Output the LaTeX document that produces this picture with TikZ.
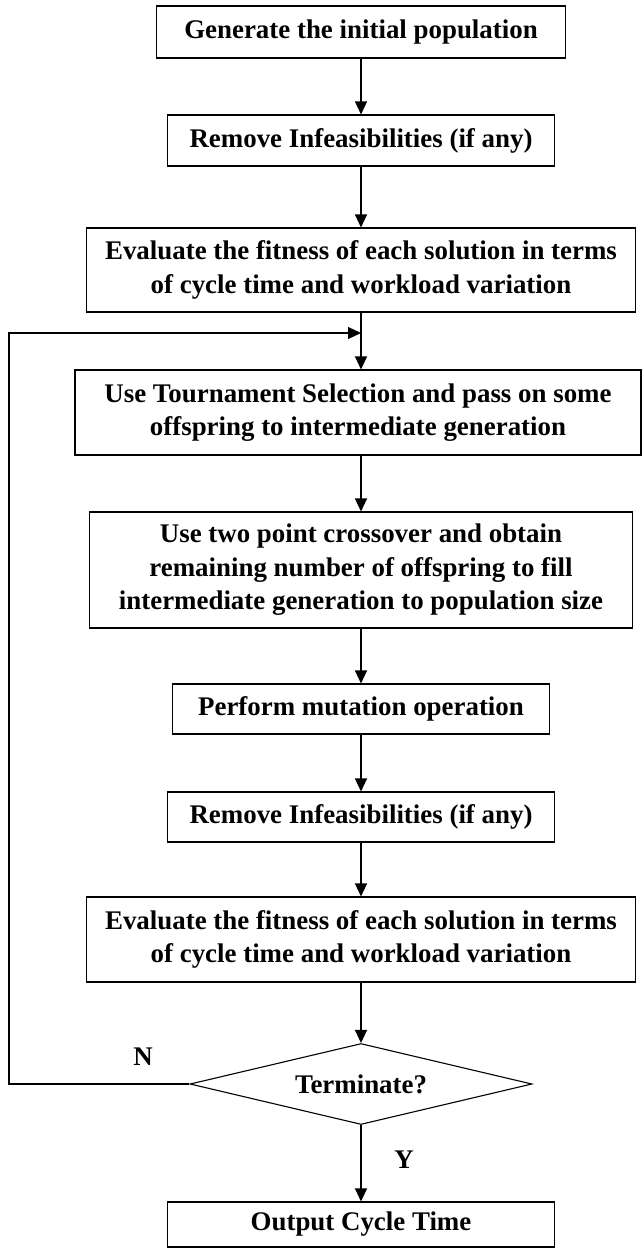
\documentclass[tikz,border=0pt]{standalone}
\usepackage{fontspec}
\setmainfont{Liberation Serif}
\usepackage{tikz}
\usetikzlibrary{arrows.meta,shapes.geometric}

\begin{document}
\begin{tikzpicture}[x=1bp,y=-1bp,
    box/.style={draw, line width=1.1bp, align=center, inner sep=0pt,
        font=\fontsize{27}{33.5}\selectfont\bfseries},
    decide/.style={draw, diamond, line width=1.1bp, inner sep=0pt, aspect=4.2,
        font=\fontsize{27}{33.5}\selectfont\bfseries},
    yn/.style={font=\fontsize{27}{33.5}\selectfont\bfseries},
    flow/.style={line width=1.1bp, -{Triangle[length=13bp,width=12bp]}}]
            \useasboundingbox (0,0) rectangle (642,1252);

            \node[box, minimum width=409bp, minimum height=52bp] (gen) at (361, 32) {Generate the initial population};
            \node[box, minimum width=387bp, minimum height=51bp] (rem1) at (361, 140.5) {Remove Infeasibilities (if any)};
            \node[box, minimum width=549bp, minimum height=84bp] (eval1) at (361, 270) {Evaluate the fitness of each solution in terms\\of cycle time and workload variation};
            \node[box, minimum width=566bp, minimum height=85bp] (tour) at (358, 412.5) {Use Tournament Selection and pass on some\\offspring to intermediate generation};
            \node[box, minimum width=543bp, minimum height=116bp] (cross) at (361, 570) {Use two point crossover and obtain\\remaining number of offspring to fill\\intermediate generation to population size};
            \node[box, minimum width=377bp, minimum height=50bp] (mut) at (361, 709) {Perform mutation operation};
            \node[box, minimum width=387bp, minimum height=50bp] (rem2) at (361, 817) {Remove Infeasibilities (if any)};
            \node[box, minimum width=549bp, minimum height=85bp] (eval2) at (361, 939.5) {Evaluate the fitness of each solution in terms\\of cycle time and workload variation};
            \node[decide, minimum width=342bp, minimum height=81bp] (term) at (361, 1084) {Terminate?};
            \node[box, minimum width=387bp, minimum height=45bp] (out) at (361, 1224.5) {Output Cycle Time};

            \node[yn] (no) at (143, 1057) {N};
            \node[yn] (yes) at (404, 1160) {Y};

            \coordinate (turn) at (9, 1084);
            \coordinate (join) at (361, 333);

            \draw[flow] (gen) -- (rem1); % gen-rem1
            \draw[flow] (rem1) -- (eval1); % rem1-eval1
            \draw[flow] (eval1.south) -- (eval1.south |- tour.north); % eval1-tour
            \draw[flow] (tour.south -| cross.north) -- (cross.north); % tour-cross
            \draw[flow] (cross) -- (mut); % cross-mut
            \draw[flow] (mut) -- (rem2); % mut-rem2
            \draw[flow] (rem2) -- (eval2); % rem2-eval2
            \draw[flow] (eval2) -- (term); % eval2-term
            \draw[flow] (term) -- (out); % term-out
            \draw[flow] (term.west) -- (turn) |- (join); % term-loop
        \end{tikzpicture}
\end{document}
